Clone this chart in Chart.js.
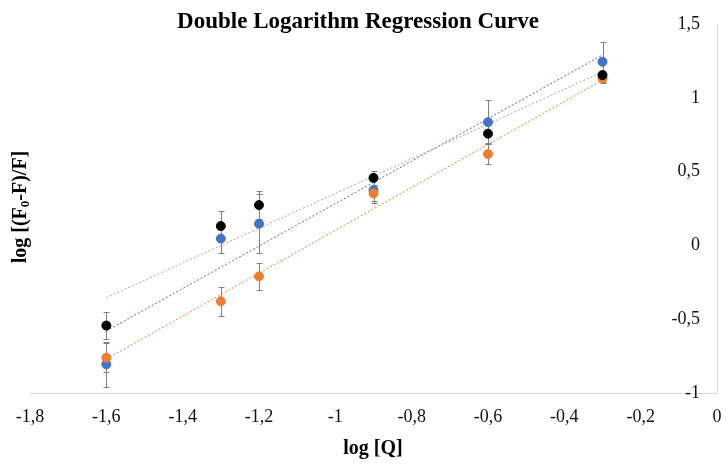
<!DOCTYPE html>
<html>
<head>
<meta charset="utf-8">
<script src="https://cdn.jsdelivr.net/npm/chart.js@4"></script>
<style>
html, body { margin: 0; padding: 0; background: #fff; }
#chart { display: block; }
</style>
</head>
<body>
<canvas id="chart" width="727" height="466"></canvas>
<script>
var logQ = [-1.6, -1.3, -1.2, -0.9, -0.6, -0.3];
var blueY = [-0.806, 0.046, 0.147, 0.374, 0.835, 1.244];
var orangeY = [-0.761, -0.379, -0.21, 0.352, 0.619, 1.131];
var blackY = [-0.543, 0.131, 0.273, 0.457, 0.757, 1.154];
var blueErr = [0.15, 0.095, 0.2, 0.09, 0.15, 0.135];
var orangeErr = [0.1, 0.1, 0.09, 0.05, 0.067, 0.03];
var blackErr = [0.09, 0.1, 0.094, 0.045, 0.06, 0.03];
// trendline ends
var trendX = [-1.6, -0.3];
var blueTrend = [-0.58, 1.29];
var orangeTrend = [-0.77, 1.12];
var blackTrend = [-0.354, 1.175];
var xTickValues = [-1.8, -1.6, -1.4, -1.2, -1, -0.8, -0.6, -0.4, -0.2, 0];
var yTickValues = [-1, -0.5, 0, 0.5, 1, 1.5];

var serif = '"Liberation Serif", "Times New Roman", serif';

var pts = function (xs, ys) {
    return xs.map(function (x, i) { return { x: x, y: ys[i] }; });
};
var fmt = function (v) {
    return String(Math.round(v * 10) / 10).replace(".", ",");
};

var errorBars = {
    id: "errorBars",
    beforeDatasetsDraw: function (chart) {
        var ctx = chart.ctx, xs = chart.scales.x, ys = chart.scales.y;
        ctx.save();
        ctx.strokeStyle = "#808080";
        ctx.lineWidth = 1;
        chart.data.datasets.forEach(function (ds) {
            if (!ds.errors) return;
            ds.data.forEach(function (p, i) {
                var e = ds.errors[i];
                var px = Math.round(xs.getPixelForValue(p.x)) + 0.5;
                var top = Math.round(ys.getPixelForValue(p.y + e)) + 0.5;
                var bot = Math.round(ys.getPixelForValue(p.y - e)) + 0.5;
                ctx.beginPath();
                ctx.moveTo(px, top); ctx.lineTo(px, bot);
                ctx.moveTo(px - 3, top); ctx.lineTo(px + 3, top);
                ctx.moveTo(px - 3, bot); ctx.lineTo(px + 3, bot);
                ctx.stroke();
            });
        });
        ctx.restore();
    }
};

var titles = {
    id: "titles",
    afterDraw: function (chart) {
        var ctx = chart.ctx;
        ctx.save();
        ctx.fillStyle = "#000";
        ctx.textAlign = "center";
        ctx.textBaseline = "middle";
        ctx.font = "bold 23px " + serif;
        ctx.fillText("Double Logarithm Regression Curve", 358, 22);
        ctx.font = "bold 20px " + serif;
        ctx.fillText("log [Q]", 373, 449);

        // y title, rotated, with subscript 0
        ctx.translate(21, 207);
        ctx.rotate(-Math.PI / 2);
        var big = "bold 20px " + serif, small = "bold 13px " + serif;
        var a = "log [(F", b = "0", c = "-F)/F]";
        ctx.font = big;
        var wa = ctx.measureText(a).width, wc = ctx.measureText(c).width;
        ctx.font = small;
        var wb = ctx.measureText(b).width;
        var x0 = -(wa + wb + wc) / 2;
        ctx.textAlign = "left";
        ctx.font = big;
        ctx.fillText(a, x0, 0);
        ctx.font = small;
        ctx.fillText(b, x0 + wa, 5);
        ctx.font = big;
        ctx.fillText(c, x0 + wa + wb, 0);
        ctx.restore();
    }
};

var ctx = document.getElementById("chart").getContext("2d");
var chart = new Chart(ctx, {
    type: "scatter",
    data: {
        datasets: [
            {
                label: "black",
                data: pts(logQ, blackY),
                errors: blackErr,
                backgroundColor: "#000000",
                borderColor: "#000000",
                pointRadius: 4.5,
                order: 0
            },
            {
                label: "orange",
                data: pts(logQ, orangeY),
                errors: orangeErr,
                backgroundColor: "#ED7D31",
                borderColor: "#ED7D31",
                pointRadius: 4.5,
                order: 1
            },
            {
                label: "blue",
                data: pts(logQ, blueY),
                errors: blueErr,
                backgroundColor: "#4472C4",
                borderColor: "#4472C4",
                pointRadius: 4.5,
                order: 2
            },
            {
                type: "line",
                data: pts(trendX, blackTrend),
                borderColor: "#A5A5A5",
                borderWidth: 1,
                borderDash: [2, 2],
                pointRadius: 0,
                fill: false,
                order: 5
            },
            {
                type: "line",
                data: pts(trendX, blueTrend),
                borderColor: "#4472C4",
                borderWidth: 1,
                borderDash: [2, 2],
                pointRadius: 0,
                fill: false,
                order: 5
            },
            {
                type: "line",
                data: pts(trendX, orangeTrend),
                borderColor: "#ED7D31",
                borderWidth: 1,
                borderDash: [2, 2],
                pointRadius: 0,
                fill: false,
                order: 5
            }
        ]
    },
    options: {
        responsive: false,
        animation: false,
        devicePixelRatio: 1,
        layout: {
            padding: { left: 30, right: 10, top: 24, bottom: 33 }
        },
        plugins: {
            legend: { display: false },
            tooltip: { enabled: false },
            title: { display: false }
        },
        scales: {
            x: {
                type: "linear",
                position: "bottom",
                min: -1.8,
                max: 0,
                grid: { display: false },
                border: { display: true, color: "#d9d9d9", width: 1 },
                afterBuildTicks: function (s) {
                    s.ticks = xTickValues.map(function (v) { return { value: v }; });
                },
                afterFit: function (s) { s.height = 40; },
                ticks: {
                    padding: 5,
                    color: "#111",
                    autoSkip: false,
                    maxRotation: 0,
                    font: { family: serif, size: 18 },
                    callback: fmt
                }
            },
            y: {
                type: "linear",
                position: "right",
                min: -1,
                max: 1.5,
                grid: { display: false },
                border: { display: true, color: "#d9d9d9", width: 1 },
                afterBuildTicks: function (s) {
                    s.ticks = yTickValues.map(function (v) { return { value: v }; });
                },
                afterFit: function (s) { s.width = 0; },
                ticks: {
                    mirror: true,
                    padding: -17,
                    color: "#111",
                    font: { family: serif, size: 18 },
                    callback: fmt
                }
            }
        }
    },
    plugins: [errorBars, titles]
});
</script>
</body>
</html>
